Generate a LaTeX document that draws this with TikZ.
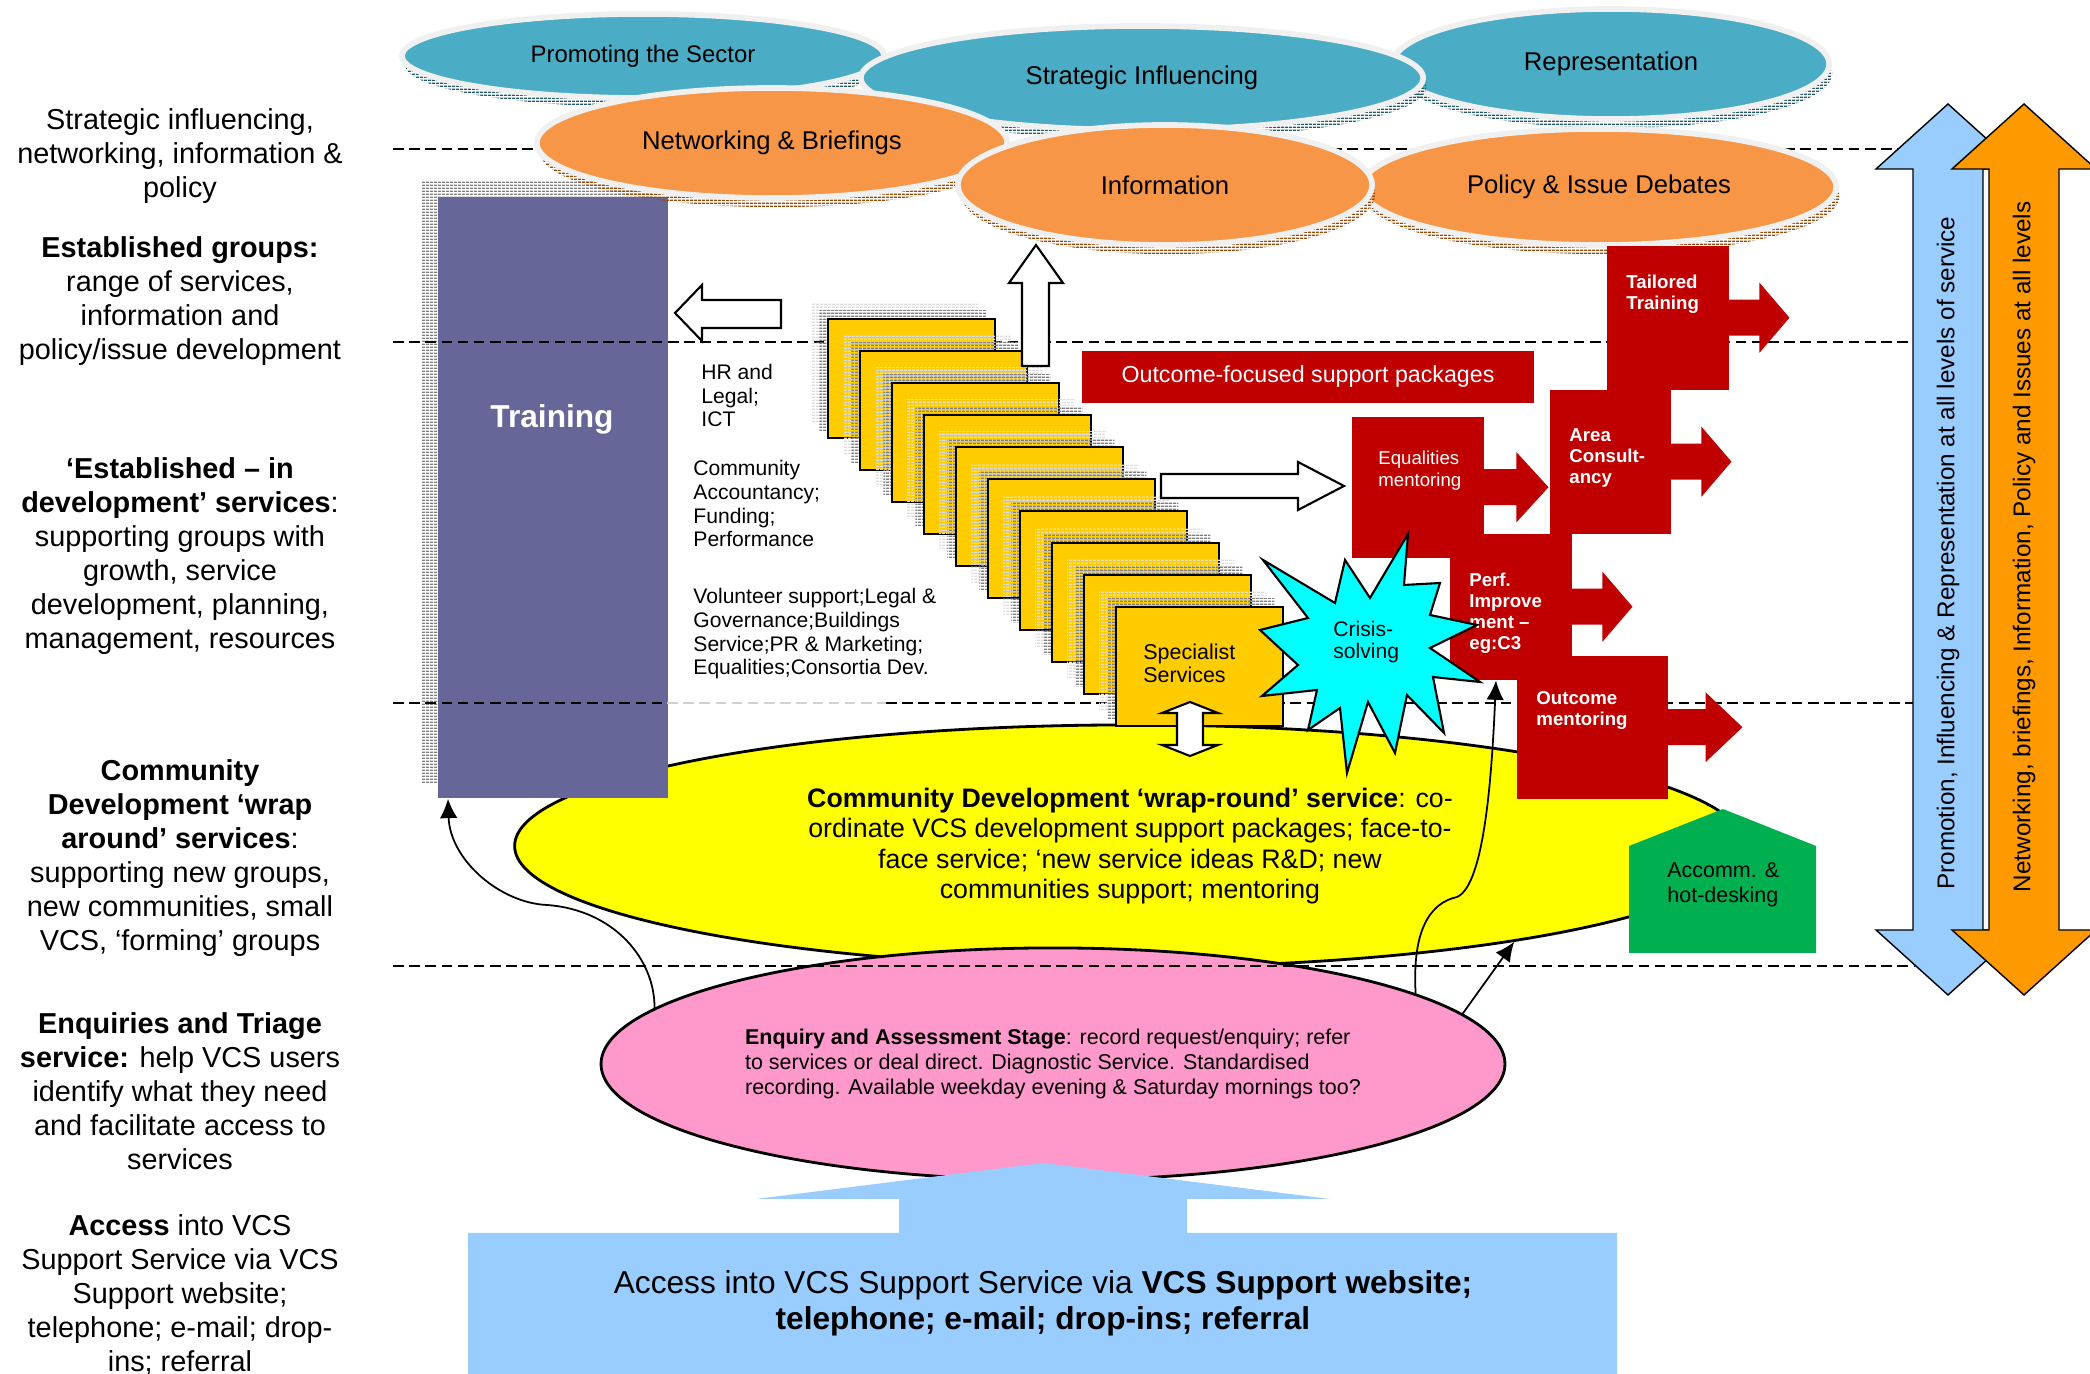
\documentclass[tikz,border=0pt]{standalone}
\usepackage{fontspec}
\setmainfont{Liberation Sans}
\usepackage{xcolor}
\usetikzlibrary{arrows,arrows.meta,shapes,shadows,patterns,calc,positioning}

\definecolor{trainpurple}{HTML}{666699}
\definecolor{skyteal}{HTML}{4BACC6}
\definecolor{tealshade}{HTML}{215868}
\definecolor{peach}{HTML}{F79646}
\definecolor{peachshade}{HTML}{984807}
\definecolor{stackyellow}{HTML}{FFCC00}
\definecolor{boxred}{HTML}{C00000}
\definecolor{crisiscyan}{HTML}{00FFFF}
\definecolor{wrapyellow}{HTML}{FFFF00}
\definecolor{enqpink}{HTML}{FF99CC}
\definecolor{accgreen}{HTML}{00B050}
\definecolor{accessblue}{HTML}{99CCFF}
\definecolor{levelorange}{HTML}{FF9900}

% thin horizontal stripes for the shadows
\pgfdeclarepatternformonly{hstripes}{\pgfqpoint{0pt}{0pt}}{\pgfqpoint{1pt}{0.9pt}}{\pgfqpoint{1pt}{0.9pt}}{%
  \pgfpathrectangle{\pgfqpoint{0pt}{0pt}}{\pgfqpoint{1pt}{0.5pt}}\pgfusepath{fill}}

% red arrow leaving a box to the right
\newcommand{\outarrow}[2][30]{%
  \fill[boxred] (#2.east) ++(-1,-18) -- ++(#1+1,0) -- ++(0,-17) -- ++(#1,35) -- ++(-#1,35) -- ++(0,-17) -- ++(-#1-1,0) -- cycle;}

\begin{document}
\begin{tikzpicture}[x=0.01cm, y=-0.01cm,
  level/.style={dash pattern=on 3pt off 1.6pt, line width=0.6pt},
  sidetext/.style={anchor=base, align=center, font=\fontsize{8.2}{9.7}\selectfont},
  smalltext/.style={anchor=base west, align=left, font=\fontsize{6}{6.8}\selectfont},
  topell/.style={ellipse, inner sep=0pt, draw=black!6, line width=1.6pt, font=\fontsize{7.3}{8}\selectfont},
  blueell/.style={topell, fill=skyteal, general shadow={shadow xshift=0.9pt, shadow yshift=-2.6pt, pattern=hstripes, pattern color=tealshade}},
  orangeell/.style={topell, fill=peach, general shadow={shadow xshift=0.9pt, shadow yshift=-2.6pt, pattern=hstripes, pattern color=peachshade}},
  stackbox/.style={draw, line width=0.6pt, fill=stackyellow, anchor=north west, inner sep=0pt, minimum width=1.67cm, minimum height=1.19cm,
    general shadow={shadow xshift=-4.8pt, shadow yshift=4.3pt, pattern=hstripes, pattern color=black!13},
    general shadow={shadow xshift=-2.5pt, shadow yshift=2.3pt, pattern=hstripes, pattern color=black!50}},
  redbox/.style={fill=boxred, anchor=north west, inner sep=0pt},
  redlbl/.style={anchor=base west, align=left, text=white, font=\bfseries\fontsize{5.3}{6}\selectfont},
  blockarrow/.style={draw, line width=0.6pt, fill=white},
  link/.style={-{Latex[length=5.5pt,width=5pt]}, line width=0.5pt},
  bigarrow/.style={draw, line width=0.4pt},
  uptext/.style={rotate=90, font=\fontsize{6.9}{8}\selectfont}]

\useasboundingbox (0,0) rectangle (2090,1374);
\clip (0,0) rectangle (2090,1374);

% wrap-round and enquiry stages
\node[ellipse, draw, line width=0.8pt, fill=wrapyellow, minimum width=12.30cm, minimum height=2.42cm, align=center, font=\fontsize{7.6}{8.6}\selectfont] (cd) at (1130,846)
  {\textbf{Community Development ‘wrap-round’ service}: co-\\ordinate VCS development support packages; face-to-\\face service; ‘new service ideas R\&D; new\\communities support; mentoring};
\node[ellipse, draw, line width=0.8pt, fill=enqpink, minimum width=8.94cm, minimum height=2.32cm, align=left, font=\fontsize{6.1}{7.2}\selectfont] (enq) at (1053,1064)
  {\textbf{Enquiry and Assessment Stage}: record request/enquiry; refer\\to services or deal direct. Diagnostic Service. Standardised\\recording. Available weekday evening \& Saturday mornings too?};

% training column
\node[fill=trainpurple, anchor=north west, minimum width=2.30cm, minimum height=6.01cm, inner sep=0pt,
  general shadow={shadow xshift=-4.5pt, shadow yshift=4.5pt, pattern=hstripes, pattern color=black!50}] (train) at (437,196) {};
\node[text=white, font=\bfseries\fontsize{9}{10}\selectfont] (trainlbl) at (552,419) {Training};

% level separators
\foreach \y in {149,342,966}
  \draw[level] (393,\y) -- (1915,\y);
\draw[level] (393,703) -- (667,703);
\draw[level, black!18] (667,703) -- (886,703);
\draw[level] (886,703) -- (1915,703);

% strategic layer
\node[blueell, minimum width=4.82cm, minimum height=0.84cm, font=\fontsize{6.8}{8}\selectfont] (promo) at (643,56) {Promoting the Sector};
\node[blueell, minimum width=4.36cm, minimum height=1.10cm] (repr) at (1611,64) {Representation};
\node[blueell, minimum width=5.62cm, minimum height=1.04cm] (strat) at (1142,78) {Strategic Influencing};
\node[orangeell, minimum width=4.70cm, minimum height=1.10cm] (netw) at (772,143) {Networking \& Briefings};
\node[orangeell, minimum width=4.74cm, minimum height=1.16cm] (policy) at (1599,187) {Policy \& Issue Debates};
\node[orangeell, minimum width=4.14cm, minimum height=1.20cm] (info) at (1165,185) {Information};

% stack of specialist services
\foreach \i in {0,...,9}
  \node[stackbox] (svc\i) at ({827+32*\i},{318+32*\i}) {};
\node[anchor=base west, align=left, font=\fontsize{6.1}{6.6}\selectfont] (spec) at (1131,683) {Specialist\\Services};

\node[smalltext] (hrlbl) at (689,427) {HR and\\Legal;\\ICT};
\node[smalltext] (acclbl) at (681,547) {Community\\Accountancy;\\Funding;\\Performance};
\node[smalltext] (vollbl) at (681,675) {Volunteer support;Legal \&\\Governance;Buildings\\Service;PR \&\ Marketing;\\Equalities;Consortia\ Dev.};

\draw[blockarrow] (781,300) -- (702,300) -- (702,285) -- (675,313) -- (702,341) -- (702,328) -- (781,328) -- cycle;
\draw[blockarrow] (1022,366) -- (1022,283) -- (1009,283) -- (1036,245) -- (1063,283) -- (1049,283) -- (1049,366) -- cycle;
\draw[blockarrow] (1161,474) -- (1298,474) -- (1298,462) -- (1344,486) -- (1298,510) -- (1298,498) -- (1161,498) -- cycle;

% outcome-focused packages
\node[redbox, anchor=center, minimum width=4.51cm, minimum height=0.52cm, text=white, font=\fontsize{6.6}{8}\selectfont] (pkg) at (1308,377) {Outcome-focused support packages};

\node[redbox, minimum width=1.22cm, minimum height=1.44cm] (tailor) at (1606,245) {};
\outarrow{tailor}
\node[redlbl] (tailorlbl) at (1614,310) {Tailored\\Training};

\node[redbox, minimum width=1.32cm, minimum height=1.41cm] (equal) at (1351,416) {};
\outarrow[32]{equal}
\node[redlbl, font=\fontsize{5.3}{6.4}\selectfont] (equallbl) at (1366,487) {Equalities\\mentoring};

\node[redbox, minimum width=1.21cm, minimum height=1.44cm] (area) at (1549,389) {};
\outarrow{area}
\node[redlbl] (arealbl) at (1557,484) {Area\\Consult-\\ancy};

\node[redbox, minimum width=1.22cm, minimum height=1.46cm] (perf) at (1449,533) {};
\outarrow{perf}
\node[redlbl] (perflbl) at (1457,650) {Perf.\\Improve\\ment –\\eg:C3};

\node[redbox, minimum width=1.51cm, minimum height=1.43cm] (outc) at (1516,655) {};
\outarrow[37]{outc}
\node[redlbl] (outclbl) at (1524,726) {Outcome\\mentoring};

% crisis star
\filldraw[fill=crisiscyan, line width=0.6pt] (1408,534) -- (1404,585) -- (1440,583) -- (1430,615) -- (1477,625) -- (1430,648)
  -- (1480,682) -- (1433,677) -- (1444,733) -- (1407,695) -- (1395,753) -- (1368,702) -- (1347,773) -- (1340,708)
  -- (1308,730) -- (1317,690) -- (1262,696) -- (1298,665) -- (1260,630) -- (1308,618) -- (1263,560) -- (1335,603)
  -- (1345,560) -- (1370,598) -- cycle;
\node[anchor=base west, align=left, font=\fontsize{6}{6.3}\selectfont] (crisislbl) at (1321,659) {Crisis-\\solving};

% accommodation
\fill[accgreen] (1629,953) -- (1629,846) -- (1723,809) -- (1816,846) -- (1816,953) -- cycle;
\node[anchor=base west, align=left, font=\fontsize{6.1}{7.3}\selectfont] (accomlbl) at (1655,903) {Accomm. \&\\hot-desking};

\draw[blockarrow] (1190,702) -- (1218,713) -- (1203,713) -- (1203,745) -- (1218,745) -- (1190,756) -- (1162,745) -- (1177,745) -- (1177,713) -- (1162,713) -- cycle;

% referrals out of the enquiry stage
\draw[link] (enq.172) .. controls (655,960) and (615,910) .. (547,905) .. controls (500,903) and (450,860) .. ($(train.south west)+(11,0)$);
\draw[link] (enq.11) .. controls (1412,930) and (1430,903) .. (1457,897) .. controls (1485,885) and (1492,770) .. ($(perf.south west)+(47,0)$);
\draw[link] (enq.7) -- (cd.-14);

% access
\fill[accessblue] (468,1380) -- (468,1233) -- (899,1233) -- (899,1199) -- (756,1199) -- (1043,1163) -- (1330,1199)
  -- (1187,1199) -- (1187,1233) -- (1617,1233) -- (1617,1380) -- cycle;
\node[anchor=base, align=center, font=\fontsize{9}{10.5}\selectfont] (accesslbl) at (1043,1330)
  {Access into VCS Support Service via \textbf{VCS Support website;}\\\textbf{telephone; e-mail; drop-ins; referral}};

% all-levels arrows
\draw[bigarrow, fill=accessblue] (1948,104) -- (2020,169) -- (1983,169) -- (1983,930) -- (2020,930) -- (1948,995)
  -- (1876,930) -- (1913,930) -- (1913,169) -- (1876,169) -- cycle;
\draw[bigarrow, fill=levelorange] (2024,104) -- (2096,169) -- (2059,169) -- (2059,930) -- (2096,930) -- (2024,995)
  -- (1952,930) -- (1989,930) -- (1989,169) -- (1952,169) -- cycle;
\node[uptext] (promolvl) at (1948,553) {Promotion, Influencing \& Representation at all levels of service};
\node[uptext] (netwlvl) at (2024,547) {Networking, briefings, Information, Policy and Issues at all levels};

% level descriptions
\node[sidetext] (lvlstrat) at (180,198) {Strategic influencing,\\networking, information \&\\policy};
\node[sidetext] (lvlest) at (180,360) {\textbf{Established groups:}\\range of services,\\information and\\policy/issue development};
\node[sidetext] (lvldev) at (180,649) {\textbf{‘Established – in}\\\textbf{development’ services}:\\supporting groups with\\growth, service\\development, planning,\\management, resources};
\node[sidetext] (lvlcd) at (180,951) {\textbf{Community}\\\textbf{Development ‘wrap}\\\textbf{around’ services}:\\supporting new groups,\\new communities, small\\VCS, ‘forming’ groups};
\node[sidetext] (lvlenq) at (180,1170) {\textbf{Enquiries and Triage}\\\textbf{service:} help VCS users\\identify what they need\\and facilitate access to\\services};
\node[sidetext] (lvlacc) at (180,1372) {\textbf{Access} into VCS\\Support Service via VCS\\Support website;\\telephone; e-mail; drop-\\ins; referral};
\end{tikzpicture}
\end{document}
